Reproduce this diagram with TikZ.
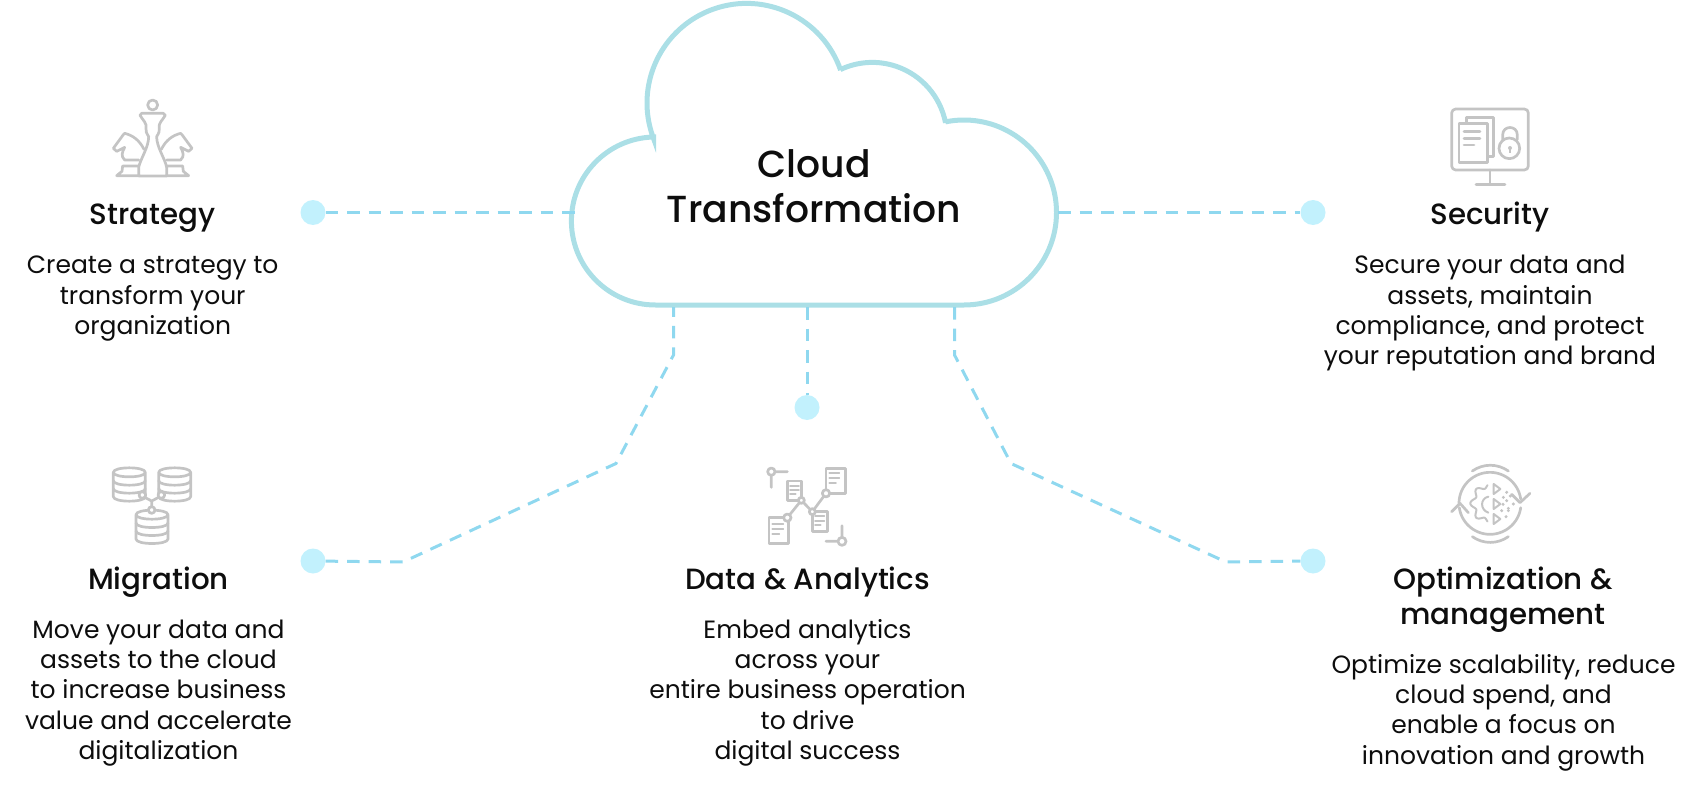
\documentclass[tikz,border=0pt]{standalone}
\usepackage{fontspec}
\setmainfont{Poppins}
\newfontfamily\titlefont{Poppins}[UprightFont={* Medium}]
\usetikzlibrary{calc}
\definecolor{cloudc}{HTML}{ABDFE6}
\definecolor{dashc}{HTML}{8FD8EF}
\definecolor{dotc}{HTML}{C2F1FD}
\definecolor{icon}{HTML}{C4C4C4}
\definecolor{ink}{HTML}{0D0D0D}
\newcommand\fst{\rule{0pt}{24pt}}
\newcommand\tfst{\rule{0pt}{28pt}}
\tikzset{
  dot/.style={circle,fill=dotc,minimum size=25pt,inner sep=0pt},
  dashline/.style={draw=dashc,line width=3pt,dash pattern=on 12.5pt off 9pt},
  body/.style={anchor=north,inner sep=0pt,align=center,text=ink,font=\fontsize{25}{30.3}\selectfont},
  head/.style={anchor=base,inner sep=0pt,align=center,text=ink,font=\titlefont\fontsize{29.3}{35}\selectfont},
  iconline/.style={draw=icon,line width=2.7pt,line join=round,line cap=round},
  thin icon/.style={draw=icon,line width=1.7pt,line cap=round},
  zoomed/.style={x=.33333pt,y=-.33333pt}
}
\begin{document}
\begin{tikzpicture}[x=1pt,y=1pt]
\useasboundingbox (0,0) rectangle (1698,-789);
% dots
\node[dot] (d1) at (313,-212.5) {};
\node[dot] (d2) at (1313,-212.5) {};
\node[dot] (d3) at (313,-561) {};
\node[dot] (d4) at (807,-407.5) {};
\node[dot] (d5) at (1313,-561) {};
% connector anchors
\coordinate (c1) at (577,-212.5);
\coordinate (c2) at (1058,-212.5);
\coordinate (c3) at (673.5,-307);
\coordinate (c4) at (807,-307);
\coordinate (c5) at (954.5,-307);
\coordinate (b3a) at (673.5,-355);
\coordinate (b3b) at (616,-463.5);
\coordinate (b3c) at (403,-562);
\coordinate (b5a) at (954.5,-355);
\coordinate (b5b) at (1011,-463.5);
\coordinate (b5c) at (1226,-562);
% cloud
\draw[cloudc,line width=5pt,miter limit=10]
  (655.4,-305) -- (964,-305)
  arc[start angle=-90,end angle=101.6,radius=92.5]
  -- ([shift={(872.3,-137)}]11:74.6)
  arc[start angle=11,end angle=115.3,radius=74.6]
  -- ([shift={(746.6,-103)}]19.3:99.6)
  arc[start angle=19.3,end angle=200.8,radius=99.6]
  -- ([shift={(655.4,-221)}]91.3:84)
  arc[start angle=91.3,end angle=270,radius=84]
  -- cycle;
% connectors
\draw[dashline] (d1) -- (c1);
\draw[dashline] (c2) -- (d2);
\draw[dashline] (d3) -- (b3c) -- (b3b) -- (b3a) -- (c3);
\draw[dashline] (c4) -- (d4);
\draw[dashline] (c5) -- (b5a) -- (b5b) -- (b5c) -- (d5);
\node[anchor=north,inner sep=0pt,align=center,text=ink,font=\titlefont\fontsize{37.7}{45}\selectfont] (cloud) at (814,-140.7) {\rule{0pt}{36.7pt}Cloud\\Transformation};
% texts
\node[head] (t1) at (152.7,-224.5) {Strategy};
\node[body] (b1) at (152.7,-249.7) {\fst Create a strategy to\\transform your\\organization};
\node[head] (t2) at (1490,-224.5) {Security};
\node[body] (b2) at (1490,-249.7) {\fst Secure your data and\\assets, maintain\\compliance, and protect\\your reputation and brand};
\node[head] (t3) at (158.5,-589.5) {Migration};
\node[body] (b3) at (158.5,-614) {\fst Move your data and\\assets to the cloud\\to increase business\\value and accelerate\\digitalization};
\node[head] (t4) at (807.5,-589.5) {Data \& Analytics};
\node[body] (b4) at (807.5,-614) {\fst Embed analytics\\across your\\entire business operation\\to drive\\digital success};
\node[head,anchor=north] (t5) at (1503,-561.5) {\tfst Optimization \&\\management};
\node[body] (b5) at (1503.5,-649) {\fst Optimize scalability, reduce\\cloud spend, and\\enable a focus on\\innovation and growth};
% chess icon
\begin{scope}[shift={(0,-60)},zoomed]
\foreach \s in {-1,1}{
\begin{scope}[shift={(458,0)},xscale=\s]
\draw[iconline] (26,268) .. controls (40,240) and (60,226) .. (84,220) -- (88,224) -- (118,265) -- (108,274) -- (84,262) .. controls (92,278) and (96,288) .. (84,300) -- (42,300);
\draw[iconline] (42,318) -- (90,318) -- (92,334) -- (108,347) -- (42,347);
\end{scope}}
\draw[iconline,fill=white] (458,135) circle (15);
\draw[iconline,fill=white] (425,160) -- (490,160) -- (496,166) .. controls (488,180) and (474,190) .. (478,205) .. controls (480,212) and (476,220) .. (470,230) .. controls (470,262) and (495,295) .. (500,322) -- (500,348) -- (416,348) -- (416,322) .. controls (422,295) and (446,262) .. (446,230) .. controls (440,220) and (436,212) .. (438,205) .. controls (442,190) and (428,180) .. (420,166) -- cycle;
\end{scope}
% monitor icon
\begin{scope}[shift={(1340,-80)},zoomed]
\draw[iconline,rounded corners=4pt] (335,87) rectangle (565,270);
\draw[iconline] (450,270) -- (450,312) (408,314) -- (495,314);
\draw[iconline,line cap=butt] (380,128) -- (380,113) -- (460,113) -- (460,230) -- (442,230);
\draw[iconline,line cap=butt] (357,130) rectangle (442,247);
\draw[iconline] (372,155) -- (420,155) (372,175) -- (420,175) (372,195) -- (402,195);
\draw[iconline] (508,205) circle (31);
\draw[iconline] (488,178) -- (488,165) .. controls (488,135) and (532,135) .. (532,165) -- (532,178);
\fill[icon] (510,204) circle (6);
\draw[icon,line width=1.3pt] (510,204) -- (510,218);
\end{scope}
% database icon
\begin{scope}[shift={(60,-440)},zoomed]
\foreach \cx/\ty in {208/97,344/97,276/224}{
\draw[iconline] (\cx-48,\ty) .. controls (\cx-48,\ty-18) and (\cx+48,\ty-18) .. (\cx+48,\ty) .. controls (\cx+48,\ty+18) and (\cx-48,\ty+18) .. (\cx-48,\ty) -- (\cx-48,\ty+73) .. controls (\cx-48,\ty+91) and (\cx+48,\ty+91) .. (\cx+48,\ty+73) -- (\cx+48,\ty);
\draw[iconline] (\cx-48,\ty+25) .. controls (\cx-48,\ty+43) and (\cx+48,\ty+43) .. (\cx+48,\ty+25);
\draw[iconline] (\cx-48,\ty+49) .. controls (\cx-48,\ty+67) and (\cx+48,\ty+67) .. (\cx+48,\ty+49);
}
\draw[iconline] (275,200) -- (275,183) -- (254,172) (275,183) -- (296,172);
\draw[iconline,fill=white] (247,165) circle (10);
\draw[iconline,fill=white] (304,165) circle (10);
\draw[iconline,fill=white] (275,210) circle (10);
\end{scope}
% data icon
\begin{scope}[shift={(700,-440)},zoomed]
\draw[iconline] (214,95) circle (11) (225,95) -- (262,95) (214,106) -- (214,142);
\draw[iconline,line cap=butt] (378,85) rectangle (436,160);
\draw[thin icon] (388,98) -- (418,98) (388,113) -- (418,113) (388,128) -- (408,128);
\draw[iconline,line cap=butt] (262,123) rectangle (305,181);
\draw[thin icon] (270,137) -- (297,137) (270,150) -- (297,150) (270,163) -- (287,163);
\draw[iconline,line cap=butt] (337,215) rectangle (382,275);
\draw[thin icon] (345,229) -- (373,229) (345,242) -- (373,242) (345,254) -- (362,254);
\draw[iconline,line cap=butt] (207,233) rectangle (265,310);
\draw[thin icon] (217,253) -- (250,253) (217,267) -- (250,267) (217,281) -- (238,281);
\draw[iconline] (262,233) -- (304,181) -- (337,215) -- (378,160);
\draw[iconline,fill=white] (378,160) circle (11);
\draw[iconline,fill=white] (304,181) circle (9);
\draw[iconline,fill=white] (337,215) circle (9);
\draw[iconline,fill=white] (262,233) circle (11);
\draw[iconline] (426,304) circle (12) (378,304) -- (414,304) (426,292) -- (426,257);
\end{scope}
% optimisation icon
\begin{scope}[shift={(1400,-440)},zoomed]
\draw[iconline] (217,93) .. controls (250,70) and (292,70) .. (325,93);
\draw[iconline] (217,290) .. controls (250,313) and (292,313) .. (325,290);
\draw[iconline] plot[domain=180:352,samples=40] ({270+93*cos(\x)},{190+93*sin(\x)});
\draw[iconline] plot[domain=8:172,samples=40] ({270+93*cos(\x)},{190+93*sin(\x)});
\draw[iconline] (335,163) -- (360,188) -- (390,160);
\draw[iconline] (155,215) -- (180,190) -- (205,218);
\draw[iconline,line width=2pt] plot[domain=100:260,samples=90] ({272+(54+7*cos(8*\x))*cos(\x)},{190+(54+7*cos(8*\x))*sin(\x)});
\draw[iconline,line width=2pt] (265,170) .. controls (240,175) and (240,210) .. (265,218);
\foreach \ty in {132,177,222}
  \draw[iconline,line width=2pt] (281,\ty) -- (301,\ty+15) -- (281,\ty+30) -- cycle;
\foreach \px/\py in {320/157,331/168,310/172,320/182,340/192,309/193,325/205,305/212,325/212,318/230}
  \fill[icon] (\px-5,\py) -- (\px,\py-5) -- (\px+5,\py) -- (\px,\py+5) -- cycle;
\end{scope}
\end{tikzpicture}
\end{document}
